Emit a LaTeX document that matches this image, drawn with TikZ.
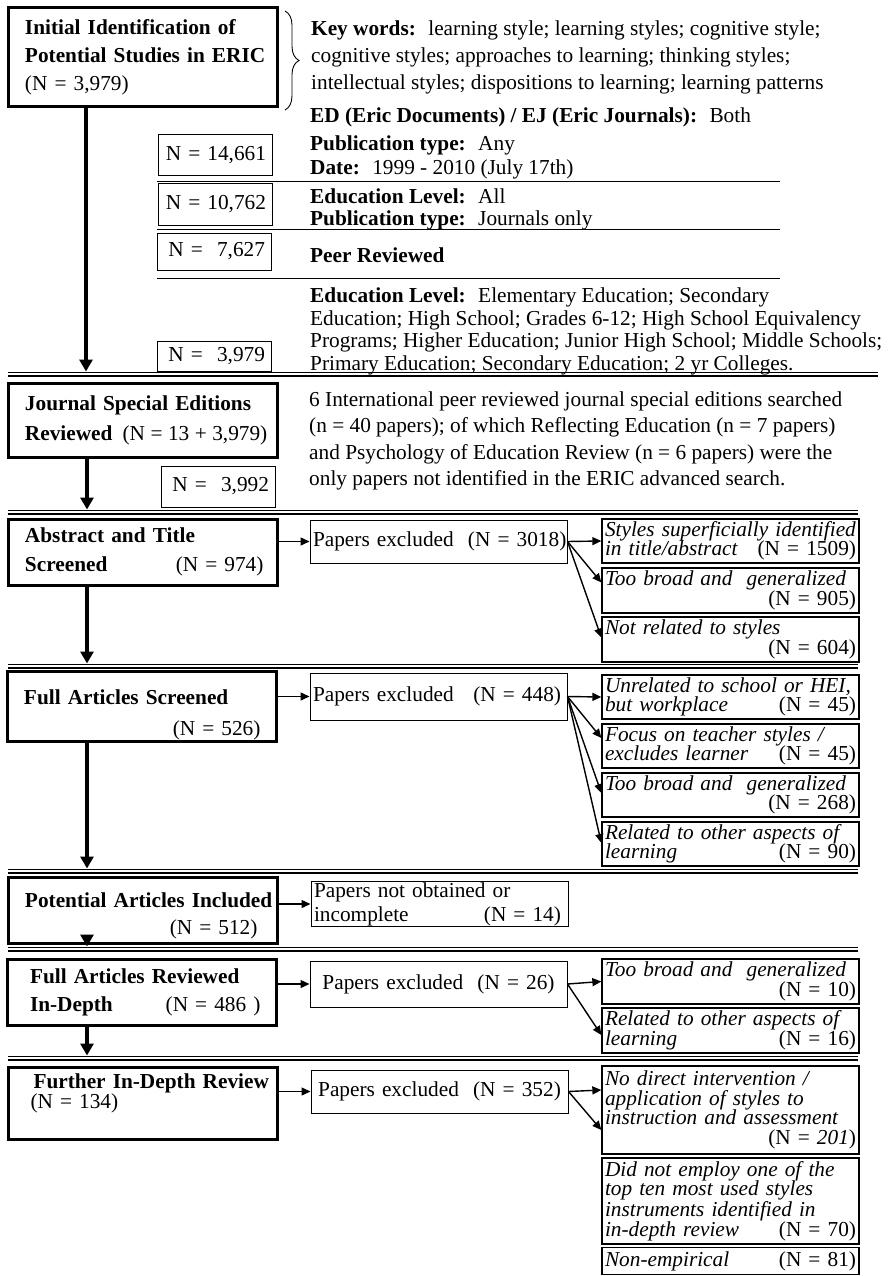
\documentclass[tikz,border=0pt]{standalone}
\usepackage{fontspec}
\setmainfont{Liberation Serif}
\usetikzlibrary{arrows.meta}
\usetikzlibrary{decorations.pathreplacing}
\tikzset{every edge/.style={draw}}
\tikzset{
  stagebox/.style={draw, line width=3pt, minimum width=269pt, text width=260pt,
    inner xsep=4.5pt, inner ysep=2pt, align=left,
    font=\fontsize{21.3}{28}\selectfont, execute at begin node={\leftskip=#1}},
  stagebox/.default=12.5pt,
  nbox/.style={draw, line width=1pt, minimum width=114pt, minimum height=41pt,
    text width=102pt, inner xsep=6pt, inner ysep=1pt, align=right,
    font=\fontsize{21.3}{24}\selectfont},
  exclbox/.style={draw, line width=1pt, minimum width=257pt, minimum height=43pt,
    text width=251pt, inner xsep=3pt, inner ysep=0.5pt, align=left,
    font=\fontsize{21.3}{24}\selectfont},
  reasonbox/.style={draw, line width=1.3pt, minimum width=257pt, text width=251pt,
    inner xsep=3pt, inner ysep=0.5pt, align=left,
    font=\fontsize{21.3}{19.5}\selectfont\itshape},
  criteria/.style={anchor=north west, align=left, inner sep=0pt,
    font=\fontsize{21.3}{24}\selectfont},
  mainarrow/.style={line width=3.5pt, -{Triangle[length=12pt, width=13pt]}},
  sidearrow/.style={line width=1.4pt, -{Triangle[length=9pt, width=8pt]}},
}

\begin{document}
\begin{tikzpicture}[x=1pt, y=-1pt]
  \path[use as bounding box, fill=white] (0, 0) rectangle (888, 1276);

  \node[stagebox, minimum height=99pt] at (142.5, 57.5) (init)
    {\textbf{Initial Identification of}\\ \textbf{Potential Studies in ERIC}\\ (N = 3,979)};
  \node[stagebox, minimum height=74pt, font=\fontsize{21.3}{30}\selectfont] at (142.5, 420) (journal)
    {\textbf{Journal Special Editions}\\
     \mbox{\textbf{Reviewed}\hspace{10pt}(N\hspace{5.5pt}=\hspace{5.5pt}13\hspace{5.5pt}+\hspace{5.5pt}3,979)}};
  \node[stagebox, minimum height=66pt, font=\fontsize{21.3}{29}\selectfont] at (142.5, 552) (abstract)
    {\textbf{Abstract and Title}\\ \textbf{Screened}\hfill(N = 974)\hspace*{9pt}\null};
  \node[stagebox, minimum height=67pt, font=\fontsize{21.3}{31}\selectfont] at (141.5, 706.5) (fullscr)
    {\rule{0pt}{31pt}\textbf{Full Articles Screened}\\ \hfill(N = 526)\hspace*{11pt}\null};
  \node[stagebox, minimum height=66pt, font=\fontsize{21.3}{27}\selectfont] at (142.5, 910) (potential)
    {\rule{0pt}{27pt}\mbox{\textbf{Potential Articles Included}}\\ \hfill(N = 512)\hspace*{15pt}\null};
  \node[stagebox=18.5pt, minimum height=66pt] at (141.5, 992) (fullrev)
    {\textbf{Full Articles Reviewed}\\ \textbf{In-Depth}\hfill(N = 486 )\hspace*{11pt}\null};
  \node[stagebox=21pt, minimum height=72pt, font=\fontsize{21.3}{20}\selectfont] at (142.5, 1103) (further)
    {\textbf{Further In-Depth Review}\\ \hspace*{-3pt}(N = 134)\par\vspace{4pt}\hbox{}};

  \node[nbox] at (215, 155.5) (n14661) {N = 14,661};
  \node[nbox] at (215, 204.5) (n10762) {N = 10,762};
  \node[nbox, minimum height=37pt] at (214, 251.5) (n7627) {N = \ 7,627};
  \node[nbox, minimum height=30pt] at (214, 356) (n3979) {N = \ 3,979};
  \node[nbox] at (218, 486.5) (n3992) {N = \ 3,992};

  \node[criteria, font=\fontsize{21.3}{27}\selectfont] at (311, 20.5) (keywords)
    {\textbf{Key words:}~ learning style; learning styles; cognitive style;\\
     cognitive styles; approaches to learning; thinking styles;\\
     intellectual styles; dispositions to learning; learning patterns};
  \node[criteria] at (310, 107.5) (edej)
    {\textbf{ED (Eric Documents) / EJ (Eric Journals):}~ Both};
  \node[criteria] at (310, 135.5) (pubany)
    {\textbf{Publication type:}~ Any\\ \textbf{Date:}~ 1999 - 2010 (July 17th)};
  \node[criteria, font=\fontsize{21.3}{22}\selectfont] at (310, 188.5) (levelall)
    {\textbf{Education Level:}~ All\\ \textbf{Publication type:}~ Journals only};
  \node[criteria] at (310, 247.5) (peer) {\textbf{Peer Reviewed}};
  \node[criteria, font=\fontsize{21.3}{22.5}\selectfont] at (310, 288) (levels)
    {\textbf{Education Level:}~ Elementary Education; Secondary\\
     Education; High School; Grades 6-12; High School Equivalency\\
     Programs; Higher Education; Junior High School; Middle Schools;\\
     Primary Education; Secondary Education; 2 yr Colleges.};
  \node[criteria, font=\fontsize{21.3}{26.3}\selectfont] at (309, 391.5) (specials)
    {6 International peer reviewed journal special editions searched\\
     (n = 40 papers); of which Reflecting Education (n = 7 papers)\\
     and Psychology of Education Review (n = 6 papers) were the\\
     only papers not identified in the ERIC advanced search.};

  \node[exclbox] at (438.5, 541.5) (excl1) {\mbox{Papers excluded~ (N = 3018)}};
  \node[exclbox, minimum height=47pt] at (438.5, 696.5) (excl2) {Papers excluded\hfill(N = 448)\hspace*{3pt}\null};
  \node[exclbox, minimum height=44pt] at (439.5, 904) (notobt)
    {Papers not obtained or\\ incomplete\hfill(N = 14)\hspace*{4pt}\null};
  \node[exclbox, minimum height=46pt, align=center] at (438.5, 984) (excl3) {Papers excluded~ (N = 26)};
  \node[exclbox, align=center] at (439.5, 1091.5) (excl4) {Papers excluded~ (N = 352)};

  \node[reasonbox, minimum height=44pt] at (730.5, 541) (r1509)
    {Styles superficially identified\\ in title/abstract\hfill\textup{(N = 1509)}};
  \node[reasonbox, minimum height=45pt] at (730.5, 590.5) (r905)
    {Too broad and~ generalized\\ \hfill\textup{(N = 905)}};
  \node[reasonbox, minimum height=45pt] at (730.5, 639.5) (r604)
    {Not related to styles\\ \hfill\textup{(N = 604)}};
  \node[reasonbox, minimum height=44pt] at (730.5, 697) (r45a)
    {Unrelated to school or HEI,\\ but workplace\hfill\textup{(N = 45)}};
  \node[reasonbox, minimum height=44pt] at (730.5, 746) (r45b)
    {Focus on teacher styles /\\ excludes learner\hfill\textup{(N = 45)}};
  \node[reasonbox, minimum height=44pt] at (730.5, 795) (r268)
    {Too broad and~ generalized\\ \hfill\textup{(N = 268)}};
  \node[reasonbox, minimum height=44pt] at (730.5, 844) (r90)
    {Related to other aspects of\\ learning\hfill\textup{(N = 90)}};
  \node[reasonbox, minimum height=45pt] at (730.5, 981.5) (r10)
    {Too broad and~ generalized\\ \hfill\textup{(N = 10)}};
  \node[reasonbox, minimum height=45pt] at (730.5, 1030.5) (r16)
    {Related to other aspects of\\ learning\hfill\textup{(N = 16)}};
  \node[reasonbox, minimum height=88pt] at (730.5, 1110) (r201)
    {No direct intervention /\\ application of styles to\\ instruction and assessment\\
     \hfill\textup{(N = }201\textup{)}};
  \node[reasonbox, minimum height=86pt] at (730.5, 1201) (r70)
    {Did not employ one of the\\ top ten most used styles\\ instruments identified in\\
     in-depth review\hfill\textup{(N = 70)}};
  \node[reasonbox, minimum height=27pt] at (730.5, 1261) (r81)
    {Non-empirical\hfill\textup{(N = 81)}};

  \draw[decorate, decoration={brace, amplitude=14pt}, line width=0.9pt] (285, 11) -- (285, 110);

  \foreach \y in {181, 230, 279}
    \draw[double, double distance=1pt, line width=0.6pt] (157, \y) -- (780, \y);

  \foreach \y/\r in {376/878, 514/858, 668/858, 873/858, 951/858, 1060/858} {
    \draw[line width=2.2pt] (8, \y) -- (\r, \y);
    \draw[line width=0.8pt] (8, \y-4) -- (\r, \y-4);
  }

  \coordinate (tip1) at (86, 371.5);
  \coordinate (tip2) at (87, 509.5);
  \coordinate (tip3) at (87, 663.5);
  \coordinate (tip4) at (87, 868.5);
  \coordinate (tip5) at (87, 946.5);
  \coordinate (tip6) at (87, 1055.5);

  \draw (init.south -| tip1) edge[mainarrow] (tip1);
  \draw (journal.south -| tip2) edge[mainarrow] (tip2);
  \draw (abstract.south -| tip3) edge[mainarrow] (tip3);
  \draw (fullscr.south -| tip4) edge[mainarrow] (tip4);
  \draw (potential.south -| tip5) edge[mainarrow] (tip5);
  \draw (fullrev.south -| tip6) edge[mainarrow] (tip6);

  \draw (abstract.east |- excl1.west) edge[sidearrow] (excl1.west);
  \draw (fullscr.east |- excl2.west) edge[sidearrow] (excl2.west);
  \draw (potential.east |- notobt.west) edge[sidearrow] (notobt.west);
  \draw (fullrev.east |- excl3.west) edge[sidearrow] (excl3.west);
  \draw (further.east |- excl4.west) edge[sidearrow] (excl4.west);

  \draw (excl1.east) edge[sidearrow] (r1509.west)
    edge[sidearrow] ([yshift=8pt]r905.west)
    edge[sidearrow] ([yshift=2pt]r604.west);
  \draw (excl2.east) edge[sidearrow] (r45a.west)
    edge[sidearrow] ([yshift=8pt]r45b.west)
    edge[sidearrow] ([yshift=2pt]r268.west)
    edge[sidearrow] ([yshift=1pt]r90.west);
  \draw (excl3.east) edge[sidearrow] (r10.west)
    edge[sidearrow] ([yshift=-4.5pt]r16.west);
  \draw (excl4.east) edge[sidearrow] ([yshift=20pt]r201.west)
    edge[sidearrow] ([yshift=-20pt]r201.west);
\end{tikzpicture}
\end{document}
